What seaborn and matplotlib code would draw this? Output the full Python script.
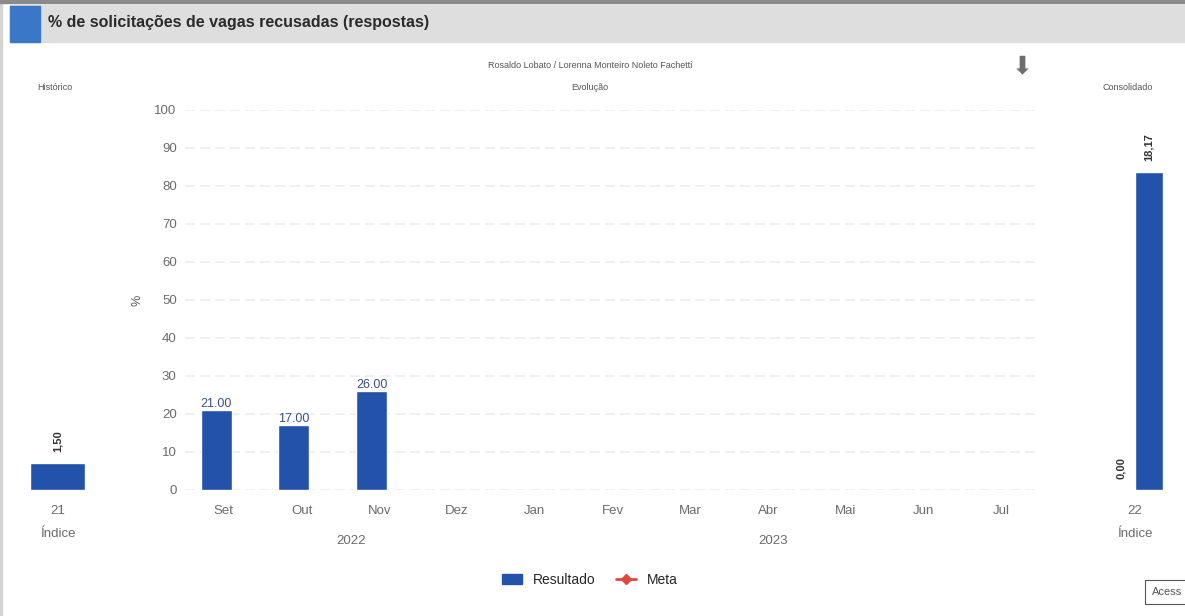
import numpy as np
import pandas as pd
import seaborn as sns
import matplotlib.pyplot as plt
from matplotlib.patches import Rectangle, Patch
from matplotlib.lines import Line2D

# data
meses = ["Set", "Out", "Nov", "Dez", "Jan", "Fev", "Mar", "Abr", "Mai", "Jun", "Jul"]
resultado = [21.00, 17.00, 26.00, np.nan, np.nan, np.nan, np.nan, np.nan, np.nan, np.nan, np.nan]
historico_cat = ["21"]
historico_val = [1.50]
consolidado_cat = ["22", "22"]
consolidado_serie = ["Meta", "Resultado"]
consolidado_val = [0.00, 18.17]

azul = "#2352ab"
cinza = "#6b6b6b"

sns.set_theme(style="white")
plt.rcParams["font.family"] = ["Liberation Sans", "DejaVu Sans"]

fig = plt.figure(figsize=(11.85, 6.16), dpi=100)
W, H = 1185, 616

def fx(px):
    return px / W

def fy(py):
    return 1 - py / H

# header band
fig.patches.append(Rectangle((fx(10), fy(42)), fx(1175), 37 / H, transform=fig.transFigure,
                             color="#dedede", zorder=0))
fig.patches.append(Rectangle((fx(10), fy(42)), fx(30), 36 / H, transform=fig.transFigure,
                             color="#3b77c8", zorder=1))
fig.patches.append(Rectangle((0, fy(616)), fx(2), 1, transform=fig.transFigure,
                             color="#d5d5d5", zorder=0))
fig.patches.append(Rectangle((0, fy(3)), 1, 3 / H, transform=fig.transFigure,
                             color="#8a8a8a", zorder=0))
fig.text(fx(48), fy(23), "% de solicitações de vagas recusadas (respostas)",
         fontsize=11.5, fontweight="bold", color="#2b2b2b", va="center")

# main chart
df = pd.DataFrame({"mes": meses, "valor": resultado})
ax = fig.add_axes([fx(185), fy(490), fx(855), 380 / H])
sns.barplot(data=df, x="mes", y="valor", order=meses, color=azul, width=0.4,
            saturation=1, ax=ax)
# columns sit a little left of the month label in the original
for p in ax.patches:
    p.set_x(p.get_x() - 0.1)
ax.set_ylim(0, 100)
ax.set_xlim(-0.5, len(meses) - 0.5)
ax.set_yticks(range(0, 101, 10))
ax.yaxis.grid(True, color="#ededed", linewidth=1.2, linestyle=(0, (6, 3)))
ax.set_axisbelow(True)
for s in ax.spines.values():
    s.set_visible(False)
ax.tick_params(axis="y", length=0, pad=6, labelsize=9.5, labelcolor=cinza)
ax.tick_params(axis="x", length=0, pad=11, labelsize=9.5, labelcolor=cinza)
ax.set_xlabel("")
ax.set_ylabel("%", fontsize=9, color="#555555", labelpad=8)
for i, v in enumerate(resultado):
    if not np.isnan(v):
        ax.text(i - 0.1, v, f"{v:.2f}", ha="center", va="bottom", fontsize=9,
                color="#3b4f86")

fig.text(fx(351), fy(541), "2022", ha="center", va="center", fontsize=9.5, color=cinza)
fig.text(fx(773), fy(541), "2023", ha="center", va="center", fontsize=9.5, color=cinza)
fig.text(fx(590), fy(66), "Rosaldo Lobato / Lorenna Monteiro Noleto Fachetti",
         ha="center", va="center", fontsize=6.5, color="#555555")
fig.text(fx(590), fy(87), "Evolução", ha="center", va="center", fontsize=6.5, color="#555555")
fig.text(fx(1022), fy(66), "⬇", ha="center", va="center", fontsize=18, color="#6e6e6e",
         family="DejaVu Sans")

# side charts
def lateral(rect, cats, vals, hue, width, ytop, titulo, xtit):
    a = fig.add_axes(rect)
    d = pd.DataFrame({"c": cats, "v": vals})
    if hue is None:
        sns.barplot(data=d, x="c", y="v", color=azul, width=width, saturation=1, ax=a)
    else:
        d["s"] = hue
        sns.barplot(data=d, x="c", y="v", hue="s", hue_order=["Meta", "Resultado"],
                    palette={"Meta": "#e0483f", "Resultado": azul}, width=width,
                    saturation=1, legend=False, ax=a)
    a.set_ylim(0, ytop)
    a.set_xlim(-0.5, 0.5)
    a.set_yticks([])
    for s in a.spines.values():
        s.set_visible(False)
    a.tick_params(axis="x", length=0, pad=11, labelsize=9.5, labelcolor=cinza)
    a.set_xlabel("Índice", fontsize=9.5, color=cinza, labelpad=8)
    a.set_ylabel("")
    for p in a.patches:
        h = p.get_height()
        if np.isnan(h) or p.get_width() == 0:
            continue
        a.annotate(f"{h:.2f}".replace(".", ","), (p.get_x() + p.get_width() / 2, h),
                   xytext=(0, 8), textcoords="offset points", rotation=90,
                   ha="center", va="bottom", fontsize=8, fontweight="bold",
                   color="#333333")
    fig.text(xtit, fy(87), titulo, ha="center", va="center", fontsize=6.5, color="#555555")
    return a

lateral([fx(15), fy(490), fx(85), 380 / H], historico_cat, historico_val, None, 0.65,
        21.1, "Histórico", fx(55))
lateral([fx(1093), fy(490), fx(84), 380 / H], consolidado_cat, consolidado_val,
        consolidado_serie, 0.67, 21.7, "Consolidado", fx(1128))

# legend
handles = [Patch(color=azul, label="Resultado"),
           Line2D([0], [0], color="#e0483f", marker="D", markersize=5, lw=2, label="Meta")]
fig.legend(handles=handles, loc="center", bbox_to_anchor=(fx(590), fy(580)), ncol=2,
           frameon=False, fontsize=10, handlelength=1.4, columnspacing=1.5)

fig.text(fx(1152), fy(592), "Acess", fontsize=8, color="#555555", va="center",
         bbox=dict(boxstyle="square,pad=0.6", fc="white", ec="#555555", lw=0.8))

fig.savefig("out.png", dpi=100)
